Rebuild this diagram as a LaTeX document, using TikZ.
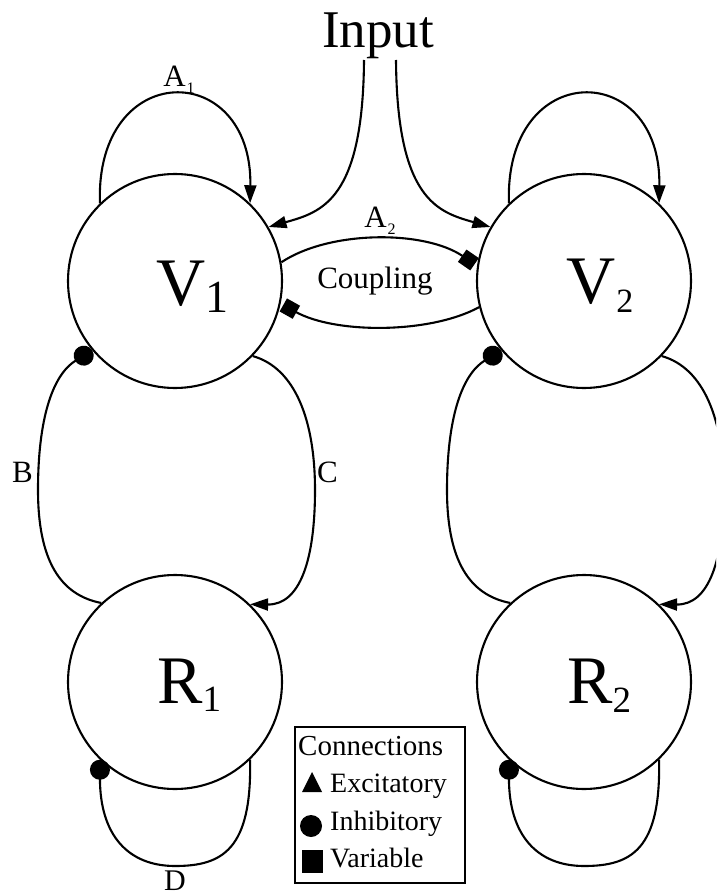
\documentclass[tikz,border=0pt]{standalone}
\usepackage{fontspec}
\setmainfont{Liberation Serif}
\usetikzlibrary{arrows.meta}

\newcommand\fsz[1]{\fontsize{#1}{#1}\selectfont}

\begin{document}
\begin{tikzpicture}[x=1pt,y=-1pt,
  unit/.style={draw, circle, line width=2.1pt, minimum size=214pt, inner sep=0pt},
  link/.style={line width=2.1pt},
  exc/.style={link, -{Triangle[length=18pt,width=12pt]}},
  inh/.style={link, -{Circle[length=20pt]}},
  var/.style={link, shorten >=3pt, -{Square[length=15pt,width=15pt]}},
  lbl/.style={inner sep=0pt, anchor=base west},
  clbl/.style={inner sep=0pt, anchor=base},
]
\useasboundingbox (0,0) rectangle (716,896);
\clip (0,0) rectangle (716,896);

% units
\node[unit] (V1) at (175,281) {};
\node[unit] (V2) at (584,281) {};
\node[unit] (R1) at (175,682) {};
\node[unit] (R2) at (584,682) {};

% unit names
\node[lbl] (v1name) at (156,305) {{\fsz{68}V}\kern0pt\raisebox{-7pt}{\fsz{46}1}};
\node[lbl] (v2name) at (566,303) {{\fsz{68}V}\kern1pt\raisebox{-9pt}{\fsz{34}2}};
\node[lbl] (r1name) at (157,703) {{\fsz{68}R}\kern0pt\raisebox{-8pt}{\fsz{37}1}};
\node[lbl] (r2name) at (567,703) {{\fsz{68}R}\kern0pt\raisebox{-9pt}{\fsz{37}2}};

% input
\node[clbl] (input) at (378,48) {\fsz{53}Input};
\coordinate (inL) at (364,60);
\coordinate (inR) at (396,60);
\draw[exc] (inL) .. controls (363,200) and (322,212) .. (V1.30);
\draw[exc] (inR) .. controls (397,200) and (438,212) .. (V2.150);

% coupling between the two V units
\draw[var] (V1.10) .. controls (330,230) and (425,230) .. (V2.172);
\draw[var] (V2.194) .. controls (430,334) and (335,334) .. (V1.348);
\node[clbl] (alab2) at (380,227) {\fsz{31}A\kern1pt\raisebox{-7pt}{\fsz{16}2}};
\node[clbl] (couple) at (375,288) {\fsz{31}Coupling};

% loops of each V/R pair
\foreach \v/\r/\dx in {V1/R1/0, V2/R2/409}{
  % self-excitation A
  \draw[exc] (\v.134) .. controls +(92:145pt) and +(89:145pt) .. (\v.46);
  % B: R inhibits V
  \draw[inh] (\r.133) .. controls ({60+\dx},595) and ({38+\dx},560) .. ({38+\dx},490)
             .. controls ({38+\dx},420) and ({52+\dx},375) .. (\v.220);
  % C: V excites R
  \draw[exc] (\v.316) .. controls ({295+\dx},368) and ({315+\dx},420) .. ({315+\dx},490)
             .. controls ({315+\dx},560) and ({300+\dx},605) .. (\r.46);
  % D: self-inhibition of R
  \draw[inh] (\r.314) .. controls ({252+\dx},850) and ({222+\dx},866) .. ({175+\dx},866)
             .. controls ({128+\dx},866) and ({100+\dx},835) .. (\r.226);
}

% loop labels
\node[clbl] (alab1) at (179,87) {\fsz{31}A\kern1pt\raisebox{-7pt}{\fsz{16}1}};
\node[lbl] (blab) at (12,482) {\fsz{31}B};
\node[lbl] (clab) at (317,482) {\fsz{31}C};
\node[clbl] (dlab) at (175,890) {\fsz{30}D};

% legend
\node[draw, line width=1.6pt, minimum width=170pt, minimum height=156pt, inner sep=0pt] (legend) at (380,805) {};
\node[lbl] (lgtitle) at (298,755) {\fsz{29}Connections};
\node[lbl] (lgexc) at (330,792) {\fsz{28}Excitatory};
\node[lbl] (lginh) at (330,830) {\fsz{28}Inhibitory};
\node[lbl] (lgvar) at (330,867) {\fsz{28}Variable};
\fill (302,792) -- (322,792) -- (312,772) -- cycle;
\fill (311,826) circle (11pt);
\fill (302,850) rectangle (323,873);
\end{tikzpicture}
\end{document}
